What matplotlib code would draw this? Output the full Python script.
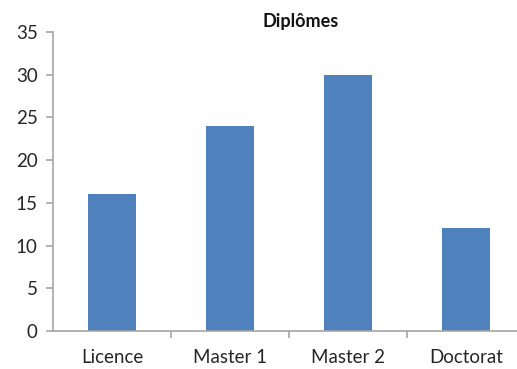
import matplotlib.pyplot as plt

categories = ['Licence', 'Master 1', 'Master 2', 'Doctorat']
values = [16, 24, 30, 12]

plt.rcParams['font.family'] = ['Lato', 'DejaVu Sans']

fig = plt.figure(figsize=(5.17, 3.69), dpi=100)
ax = fig.add_axes([53 / 517, 38 / 369, 464 / 517, 299 / 369])

x = range(len(categories))
ax.bar(x, values, width=0.4, color='#4F81BD', zorder=2)

ax.set_xlim(-0.5, -0.5 + 464 / 118)
ax.set_ylim(0, 35)
ax.set_yticks(range(0, 36, 5))
ax.set_xticks(list(x))
ax.set_xticklabels(categories)
ax.set_xticks([0.5, 1.5, 2.5], minor=True)

grey = '#a6a6a6'
for side in ['top', 'right']:
    ax.spines[side].set_visible(False)
for side in ['left', 'bottom']:
    ax.spines[side].set_color(grey)
    ax.spines[side].set_linewidth(1.2)

ax.tick_params(axis='y', length=5, color=grey, width=1.2, labelsize=13.5,
               labelcolor='#262626', pad=6)
ax.tick_params(axis='x', which='major', length=0, labelsize=13.5,
               labelcolor='#262626', pad=13)
ax.tick_params(axis='x', which='minor', length=5, color=grey, width=1.2)

fig.text(301 / 517, 1 - 22 / 369, 'Diplômes', ha='center', va='center',
         fontsize=13, fontweight='bold', color='#111111')

fig.savefig('out.png', dpi=100)
